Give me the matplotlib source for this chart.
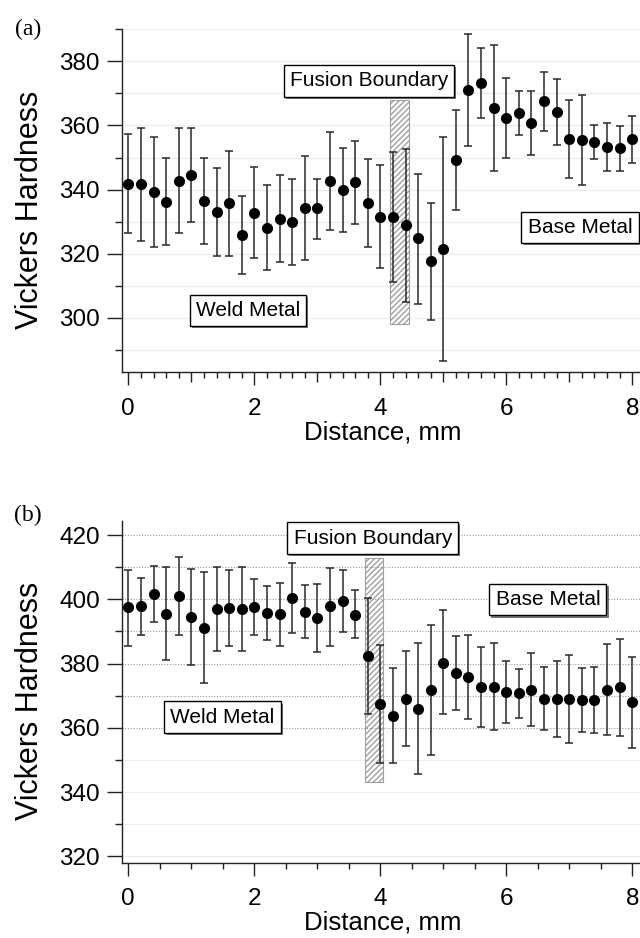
import matplotlib
matplotlib.use('Agg')
import matplotlib.pyplot as plt
import numpy as np
from matplotlib.ticker import MultipleLocator, FuncFormatter
from matplotlib.patches import Rectangle
import matplotlib.patheffects as pe

plt.rcParams['font.family'] = ['Liberation Sans', 'DejaVu Sans']

# ---------------- data ----------------
distance = [0.0, 0.2, 0.4, 0.6, 0.8, 1.0, 1.2, 1.4, 1.6, 1.8, 2.0, 2.2, 2.4, 2.6, 2.8,
            3.0, 3.2, 3.4, 3.6, 3.8, 4.0, 4.2, 4.4, 4.6, 4.8, 5.0, 5.2, 5.4, 5.6, 5.8,
            6.0, 6.2, 6.4, 6.6, 6.8, 7.0, 7.2, 7.4, 7.6, 7.8, 8.0]

# panel (a)
hv_a = [341.8, 341.6, 339.4, 336.1, 342.7, 344.4, 336.5, 332.9, 335.8, 325.8, 332.7,
        328.0, 330.9, 329.9, 334.2, 334.1, 342.8, 339.8, 342.5, 335.8, 331.6, 331.4,
        328.8, 324.8, 317.7, 321.5, 349.1, 371.1, 373.3, 365.3, 362.3, 363.9, 360.7,
        367.6, 364.2, 355.7, 355.6, 354.9, 353.4, 352.9, 355.9]
hi_a = [357.3, 359.1, 356.5, 349.8, 359.1, 359.1, 349.9, 346.7, 352.1, 338.1, 347.0,
        341.3, 344.4, 343.3, 350.4, 343.2, 358.1, 353.0, 355.3, 349.6, 347.6, 351.6,
        352.7, 344.9, 335.8, 356.4, 364.7, 388.4, 384.1, 385.1, 374.7, 370.8, 370.8,
        376.6, 374.5, 368.0, 369.6, 360.1, 360.9, 359.9, 363.1]
lo_a = [326.4, 324.0, 322.2, 322.6, 326.3, 329.8, 323.1, 319.4, 319.4, 313.7, 318.7,
        314.8, 317.4, 316.4, 318.0, 324.7, 327.5, 326.8, 329.4, 322.2, 315.5, 311.1,
        305.0, 304.3, 299.3, 286.4, 333.6, 353.7, 362.4, 345.8, 350.0, 357.0, 350.9,
        358.4, 353.8, 343.6, 341.3, 349.6, 345.8, 345.8, 348.4]

# panel (b)
hv_b = [397.5, 397.8, 401.6, 395.6, 401.2, 394.5, 391.1, 396.9, 397.2, 397.0, 397.7,
        395.7, 395.5, 400.4, 396.1, 394.3, 397.8, 399.5, 395.2, 382.5, 367.4, 363.7,
        369.0, 365.8, 371.8, 380.3, 377.0, 375.8, 372.7, 372.7, 371.2, 370.7, 371.9,
        369.0, 369.0, 369.0, 368.7, 368.7, 371.9, 372.6, 367.9]
hi_b = [409.2, 406.7, 410.3, 410.0, 413.1, 409.5, 408.4, 410.0, 409.0, 410.0, 406.4,
        404.1, 405.2, 411.4, 404.4, 404.9, 409.9, 409.0, 402.8, 400.4, 385.8, 378.6,
        383.8, 386.3, 392.1, 396.7, 388.6, 389.0, 385.3, 386.5, 380.9, 378.2, 383.3,
        378.9, 380.7, 382.7, 378.7, 378.9, 386.1, 387.8, 382.2]
lo_b = [385.6, 389.0, 392.9, 381.1, 389.0, 379.5, 374.1, 383.8, 385.5, 383.8, 389.0,
        387.3, 385.6, 389.5, 387.9, 383.6, 385.6, 389.9, 387.9, 364.4, 349.0, 349.0,
        354.2, 345.7, 351.5, 364.4, 365.4, 362.9, 360.3, 359.4, 361.4, 363.2, 360.6,
        359.3, 357.2, 355.2, 358.7, 358.4, 357.9, 357.5, 353.7]

# fusion boundary zones (x0, x1, y0, y1)
fb_a = (4.15, 4.46, 298.0, 368.0)
fb_b = (3.76, 4.05, 343.0, 413.0)

# annotations (text, x, y)
notes_a = [("Fusion Boundary", 3.82, 373.9), ("Weld Metal", 1.90, 302.3), ("Base Metal", 7.17, 328.2)]
notes_b = [("Fusion Boundary", 3.88, 419.1), ("Weld Metal", 1.49, 363.3), ("Base Metal", 6.66, 399.9)]

ylim_a = (283, 390)
ylim_b = (318, 424.5)
xlim = (-0.108, 8.281)

# ---------------- figure ----------------
W, H = 640, 938
fig = plt.figure(figsize=(W / 100, H / 100), dpi=100)

left_px, right_px = 121.5, 650
ax_a = fig.add_axes([left_px / W, 1 - 372.3 / H, (right_px - left_px) / W, (372.3 - 29.3) / H])
ax_b = fig.add_axes([left_px / W, 1 - 862.7 / H, (right_px - left_px) / W, (862.7 - 520.7) / H])


def panel(ax, hv, hi, lo, ylim, fb, notes, xminor, grid_dark):
    x = np.array(distance)
    m = np.array(hv)
    err = [m - np.array(lo), np.array(hi) - m]
    ax.errorbar(x, m, yerr=err, fmt='o', color='black', ms=7, ecolor='#2a2a2a',
                elinewidth=1.1, capsize=2.6, capthick=1.1, zorder=4, clip_on=False)
    ax.set_xlim(*xlim)
    ax.set_ylim(*ylim)

    # grid lines every 10
    for lev in np.arange(np.ceil(ylim[0] / 10) * 10, ylim[1] + 0.1, 10):
        if grid_dark and lev >= 355:
            ax.axhline(lev, color='#9a9a9a', lw=0.8, ls=(0, (1, 1.5)), zorder=0)
        else:
            ax.axhline(lev, color='#ececec', lw=0.8, zorder=0)

    x0, x1, y0, y1 = fb
    ax.add_patch(Rectangle((x0, y0), x1 - x0, y1 - y0, facecolor='none',
                           edgecolor='#a0a0a0', hatch='//////', lw=0.8, zorder=2))

    for txt, tx, ty in notes:
        t = ax.text(tx, ty, txt, ha='center', va='center', fontsize=15, zorder=5,
                    bbox=dict(boxstyle='square,pad=0.3', fc='white', ec='black', lw=1.0))
        t.get_bbox_patch().set_path_effects([pe.SimplePatchShadow(offset=(1.5, -1.5), shadow_rgbFace='#555555', alpha=0.8), pe.Normal()])

    for s in ('top', 'right'):
        ax.spines[s].set_visible(False)
    for s in ('left', 'bottom'):
        ax.spines[s].set_color('#222222')
        ax.spines[s].set_linewidth(1.0)

    ax.yaxis.set_major_locator(MultipleLocator(20))
    ax.yaxis.set_minor_locator(MultipleLocator(10))
    ax.tick_params(axis='y', which='major', length=10.5, width=1.0, pad=5, labelsize=17.5, color='#222222')
    ax.tick_params(axis='y', which='minor', length=5, width=1.0, color='#222222')
    ax.xaxis.set_minor_locator(MultipleLocator(xminor))
    ax.tick_params(axis='x', which='major', length=9.5, width=1.0, pad=9, labelsize=17.5, color='#222222')
    ax.tick_params(axis='x', which='minor', length=4.5, width=1.0, color='#222222')

    ax.set_ylabel('Vickers Hardness', fontsize=22)
    ax.yaxis.set_label_coords((45 - left_px) / (right_px - left_px), 0.473)
    ax.set_xlabel('Distance, mm', fontsize=18.5)
    ax.xaxis.set_label_coords((383 - left_px) / (right_px - left_px), -0.14)


panel(ax_a, hv_a, hi_a, lo_a, ylim_a, fb_a, notes_a, 0.2, False)
panel(ax_b, hv_b, hi_b, lo_b, ylim_b, fb_b, notes_b, 0.5, True)

# panel (a): major every 1 mm, labels on even values only
ax_a.xaxis.set_major_locator(MultipleLocator(1))
ax_a.xaxis.set_major_formatter(FuncFormatter(lambda v, p: f"{v:.0f}" if abs(v) % 2 < 0.01 else ""))
ax_b.xaxis.set_major_locator(MultipleLocator(2))

fig.canvas.draw()
for tk in ax_a.xaxis.get_major_ticks():
    if abs(tk.get_loc()) % 2 > 0.5:
        tk.tick1line.set_markersize(7)

fig.text(28 / W, 1 - 29 / H, '(a)', family=['Liberation Serif', 'DejaVu Serif'], fontsize=17, ha='center', va='center')
fig.text(28 / W, 1 - 515 / H, '(b)', family=['Liberation Serif', 'DejaVu Serif'], fontsize=17, ha='center', va='center')

fig.savefig('out.png', dpi=100)
